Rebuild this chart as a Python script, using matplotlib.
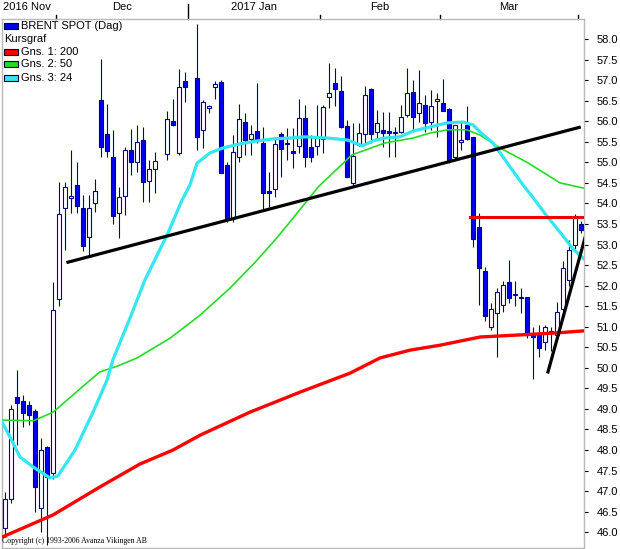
import numpy as np
import matplotlib
matplotlib.use('Agg')
import matplotlib.pyplot as plt
import matplotlib.patches as patches
from matplotlib.transforms import blended_transform_factory

plt.rcParams['font.family'] = ['Liberation Sans', 'DejaVu Sans']

# dagliga kurser, ett fack per handelsdag (None = ingen handel)
open_ = [46.1, 46.8, 49.29, 49.2, 49.1, 48.95, 46.6, 48.07, 47.45, 51.67,
         53.9, 54.13, 54.45, 53.9, 53.18, 54.0, 56.52, 55.69, 55.13, 53.77,
         54.18, 55.3, 55.0, 55.54, 54.55, 54.84, None, 55.2, 56.0, 55.23,
         56.98, None, 57.05, 55.79, 56.33, 56.83, 56.95, 54.93, 53.64, 55.13,
         55.98, 55.57, 55.76, 55.47, 54.3, 54.35, 55.69, 55.45, 55.28, 55.4,
         56.08, 55.37, 55.4, 55.57, 56.59, 56.93, 56.73, 55.88, 54.5, 55.42,
         55.69, 56.78, 55.74, 55.79, 55.76, 55.74, 55.74, 56.15, 56.71, 56.2,
         56.39, 55.98, 56.5, 56.44, 56.3, 55.13, 55.5, 55.9, 55.62, 53.43,
         52.36, 50.99, 51.33, 51.53, 52.09, 51.78, 51.7, 51.72, 50.8, 50.8,
         50.63, 50.85, 50.8, 51.43, 52.14, 53.0, 53.5]
high = [46.98, 49.1, 49.95, 49.34, 49.2, 49.0, 48.3, 48.1, 52.1, 54.52,
        54.52, 55.3, 55.0, 54.2, 54.2, 54.6, 57.51, 56.42, 55.79, 54.4,
        55.37, 55.8, 55.9, 55.86, 55.06, 55.25, None, 56.25, 56.54, 57.27,
        57.2, None, 58.36, 56.52, 56.4, 56.98, 57.0, 55.0, 55.66, 56.42,
        56.2, 55.9, 56.93, 55.86, 54.76, 55.62, 55.74, 55.83, 55.83, 56.54,
        56.4, 55.66, 56.4, 56.4, 57.42, 57.29, 57.1, 56.03, 55.96, 55.96,
        56.86, 56.8, 56.27, 56.22, 56.22, 55.86, 56.4, 57.29, 57.0, 57.25,
        56.64, 56.76, 56.69, 57.03, 56.32, 55.9, 55.98, 56.37, 55.62, 53.77,
        52.45, 51.58, 51.94, 52.11, 52.62, 52.11, 51.94, 51.72, 50.99, 51.04,
        51.04, 51.0, 51.6, 52.6, 53.1, 53.74, 53.57]
low = [45.9, 46.7, 48.12, 48.56, 48.6, 46.5, 46.0, 45.69, 47.3, 51.5,
       52.87, 53.77, 53.77, 52.85, 52.75, 53.8, 55.13, 55.13, 53.5, 53.16,
       53.72, 54.7, 54.76, 54.03, 54.03, 54.25, None, 55.06, 55.88, 55.18,
       56.47, None, 55.3, 55.35, 56.2, 56.54, 54.74, 53.55, 53.55, 55.0,
       55.18, 55.18, 55.47, 53.84, 53.91, 54.16, 54.64, 55.06, 54.86, 55.23,
       54.89, 55.0, 55.18, 55.23, 56.32, 56.37, 55.83, 54.64, 54.4, 55.4,
       55.45, 55.47, 55.54, 55.37, 55.13, 55.13, 55.71, 56.1, 55.79, 55.98,
       55.74, 55.79, 55.62, 56.25, 54.98, 55.08, 55.3, 55.54, 52.94, 51.53,
       51.14, 50.92, 50.26, 51.36, 51.58, 51.5, 51.33, 50.72, 49.73, 50.26,
       50.43, 50.4, 50.7, 51.3, 52.0, 52.9, 53.28]
close = [46.8, 49.0, 49.14, 48.9, 48.85, 47.1, 48.0, 47.34, 51.4, 53.74,
         54.4, 54.17, 53.94, 52.96, 53.9, 54.3, 55.37, 55.27, 53.69, 54.16,
         55.3, 55.0, 55.49, 54.52, 54.84, 55.03, None, 56.05, 55.9, 56.83,
         56.83, None, 55.62, 56.47, 56.37, 56.9, 54.74, 53.64, 55.25, 56.05,
         55.54, 55.69, 55.52, 54.25, 54.25, 55.44, 55.32, 55.47, 55.23, 56.08,
         55.13, 55.13, 55.59, 56.35, 56.69, 56.78, 55.86, 54.64, 55.15, 55.71,
         56.64, 55.69, 55.96, 55.71, 55.71, 55.71, 56.1, 56.69, 56.1, 56.44,
         55.96, 56.37, 56.54, 56.25, 55.06, 55.9, 55.55, 55.57, 53.13, 52.43,
         51.26, 51.43, 51.84, 52.01, 51.7, 51.8, 51.72, 50.8, 50.75, 50.48,
         50.99, 50.9, 51.35, 52.43, 52.87, 53.67, 53.35]

# glidande medelvarden avlasta ur bilden (fack, kurs)
ma200_k = [-0.5, 8, 15.8, 22.5, 28, 32.5, 40.8, 49.2, 57.5, 62.5, 67.5, 72.5, 79.2, 85.8, 92, 96.5]
ma200 = [45.88, 46.42, 47.10, 47.66, 48.0, 48.36, 48.92, 49.41, 49.87, 50.24, 50.43, 50.55, 50.75, 50.8, 50.85, 50.9]

ma50_k = [-0.5, 4.7, 8, 13, 15.8, 18.7, 22, 27.5, 32.5, 37.5, 41.7, 45, 47.5, 52.2, 57.8,
          63.3, 68, 70.8, 73.7, 77, 79.2, 82.5, 87, 92.5, 96.5]
ma50 = [48.73, 48.71, 48.92, 49.55, 49.90, 50.04, 50.24, 50.72, 51.28, 51.94, 52.57, 53.11, 53.55, 54.4, 55.18,
        55.47, 55.59, 55.71, 55.79, 55.79, 55.66, 55.35, 55.0, 54.5, 54.37]

ma24_k = [-0.5, 0.83, 2.5, 4.67, 7.5, 8.83, 11.67, 14.67, 17, 18, 20.83, 23.33, 27.17, 29.5, 30.83,
          32, 34.17, 36.33, 39.17, 42, 44.67, 47.5, 50, 53.83, 57.17, 59.5, 61.67, 63.33, 65.83,
          68, 70.83, 73.67, 76.33, 78, 79.17, 81.33, 84.17, 86.33, 88.33, 90.33, 93, 94.67, 96.5]
ma24 = [48.68, 48.32, 47.83, 47.59, 47.32, 47.37, 48.0, 48.92, 49.70, 50.20, 51.21, 52.14, 53.28, 54.08, 54.45,
        54.98, 55.23, 55.35, 55.45, 55.52, 55.57, 55.59, 55.62, 55.59, 55.54, 55.40, 55.54, 55.59, 55.62,
        55.76, 55.86, 55.96, 55.98, 55.91, 55.74, 55.47, 54.89, 54.45, 54.08, 53.69, 53.21, 52.89, 52.65]

# trendlinjer och motstand
trend1_k = [10.5, 95.7]
trend1 = [52.57, 55.85]
trend2_k = [90.5, 96.7]
trend2 = [49.9, 53.18]
resist_k = [77.5, 96.5]
resist = [53.68, 53.68]

month_bounds = [8.5, 30.5, 52.5, 72.5, 95.5]
month_names = ['2016 Nov', 'Dec', '2017 Jan', 'Feb', 'Mar']
y_ticks = np.arange(46.0, 58.01, 0.5)

W, H = 620, 549
fig = plt.figure(figsize=(W / 100, H / 100), dpi=100)
ax = fig.add_axes([2 / W, 1 / H, 582 / W, 529 / H])

wick_col = '#000088'
for k in range(len(open_)):
    o = open_[k]
    if o is None:
        continue
    h, l, c = high[k], low[k], close[k]
    ax.vlines(k, l, h, color=wick_col, lw=0.8, zorder=2)
    bot = min(o, c)
    hgt = max(abs(c - o), 0.015)
    face = 'white' if c >= o else '#0000ee'
    ax.add_patch(patches.Rectangle((k - 0.37, bot), 0.74, hgt, facecolor=face,
                                   edgecolor=wick_col, lw=0.8, zorder=3))

ax.plot(ma200_k, ma200, color='#ff0000', lw=2.4, zorder=4, solid_capstyle='butt')
ax.plot(ma50_k, ma50, color='#22dd22', lw=1.2, zorder=4)
ax.plot(ma24_k, ma24, color='#33e6f2', lw=2.3, zorder=4)
ax.plot(resist_k, resist, color='#ee0000', lw=2.2, zorder=5)
ax.plot(trend1_k, trend1, color='black', lw=2.3, zorder=5)
ax.plot(trend2_k, trend2, color='black', lw=2.3, zorder=5)

ax.set_xlim(-0.5, 96.5)
ax.set_ylim(45.616, 58.487)
for s in ax.spines.values():
    s.set_color('#b8b8b8')
    s.set_linewidth(1)
ax.set_xticks([])
ax.yaxis.tick_right()
ax.set_yticks(y_ticks)
ax.set_yticklabels(['%.1f' % v for v in y_ticks])
ax.tick_params(axis='y', direction='out', length=3, width=0.8, pad=6, labelsize=8, colors='black')

# manadsmarkeringar ovanfor diagrammet
tr = blended_transform_factory(ax.transData, ax.transAxes)
ah = 529.0
for i, b in enumerate(month_bounds):
    top = 15.0 if i == 1 else 4.0
    ax.plot([b, b], [1.0, 1.0 + top / ah], color='black', lw=1, transform=tr, clip_on=False)
ax.text(-0.35, 1.0 + 12 / ah, month_names[0], transform=tr, ha='left', va='center', fontsize=8)
for i in range(1, len(month_names)):
    mid = (month_bounds[i - 1] + month_bounds[i]) / 2
    ax.text(mid, 1.0 + 12 / ah, month_names[i], transform=tr, ha='center', va='center', fontsize=8)

# legend
leg = [('#0000ee', 'BRENT SPOT (Dag)'), (None, 'Kursgraf'), ('#ff0000', 'Gns. 1: 200'),
       ('#22dd22', 'Gns. 2: 50'), ('#33e6f2', 'Gns. 3: 24')]
rows = [25.7, 39, 51.7, 64.3, 77.7]
for (col, txt), yy in zip(leg, rows):
    if col is None:
        fig.text(4 / W, 1 - yy / H, txt, ha='left', va='center', fontsize=8)
    else:
        fig.patches.append(patches.Rectangle((4 / W, 1 - (yy + 3) / H), 14 / W, 6 / H, facecolor=col,
                                             edgecolor='#000040', lw=0.8, transform=fig.transFigure))
        fig.text(21 / W, 1 - yy / H, txt, ha='left', va='center', fontsize=8)

fig.text(2 / W, 1 - 541 / H, 'Copyright (c) 1993-2006 Avanza Vikingen AB', ha='left', va='center',
         fontsize=5.6, family='Liberation Serif')

plt.savefig('out.png', dpi=100)
